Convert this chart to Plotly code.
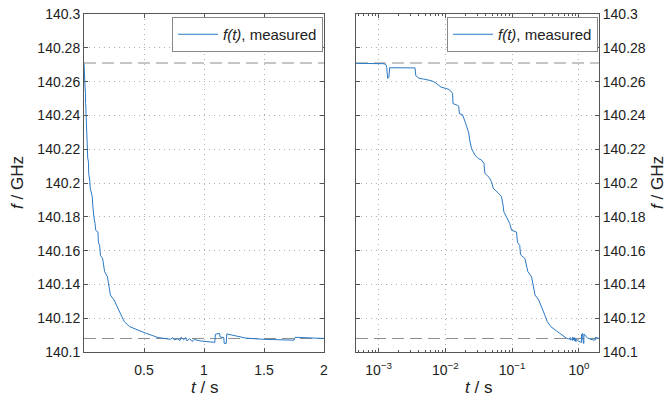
import plotly.graph_objects as go

# ---- data ----
t_s = [0.00046, 0.0008, 0.0012, 0.00128, 0.00132, 0.00136, 0.00142, 0.00146, 0.0020, 0.0030,
       0.0035, 0.0036, 0.0040, 0.0047, 0.0054, 0.0062, 0.0072, 0.0086, 0.0101, 0.0115,
       0.0128, 0.0130, 0.0150, 0.0158, 0.0162, 0.0180, 0.0198, 0.0215, 0.0222, 0.0232,
       0.0246, 0.0276, 0.0310, 0.0347, 0.0377, 0.0390, 0.0450, 0.0490, 0.0520, 0.0620,
       0.0690, 0.0730, 0.0750, 0.0820, 0.0920, 0.0980, 0.1160, 0.1200, 0.1300, 0.1330,
       0.1380, 0.1550, 0.1600, 0.1720, 0.1950, 0.2070, 0.2200, 0.2500, 0.2750, 0.2900,
       0.3150, 0.3350, 0.3800, 0.4600, 0.5200, 0.5800, 0.6100, 0.6500, 0.7000, 0.7200,
       0.7400, 0.7500, 0.7800, 0.8000, 0.8100, 0.8300, 0.8500, 0.8600, 0.8800, 0.9000,
       0.9200, 0.9500, 1.0000, 1.0900, 1.0950, 1.1300, 1.1350, 1.1650, 1.1680, 1.1850,
       1.1900, 1.3500, 1.5000, 1.6300, 1.7000, 1.7500, 1.7600, 1.9000, 2.0000]
f_GHz = [140.2708, 140.2708, 140.2706, 140.2700, 140.2685, 140.2620, 140.2625, 140.2682, 140.2683, 140.2683,
         140.2681, 140.2635, 140.2620, 140.2615, 140.2610, 140.2605, 140.2592, 140.2567, 140.2560, 140.2552,
         140.2530, 140.2470, 140.2460, 140.2455, 140.2410, 140.2405, 140.2360, 140.2320, 140.2300, 140.2250,
         140.2205, 140.2166, 140.2145, 140.2136, 140.2117, 140.2057, 140.2034, 140.2008, 140.1969, 140.1940,
         140.1920, 140.1870, 140.1830, 140.1800, 140.1760, 140.1720, 140.1710, 140.1650, 140.1630, 140.1580,
         140.1570, 140.1554, 140.1525, 140.1475, 140.1446, 140.1396, 140.1337, 140.1308, 140.1270, 140.1249,
         140.1209, 140.1180, 140.1150, 140.1125, 140.1110, 140.1095, 140.1087, 140.1082, 140.1078, 140.1075,
         140.1085, 140.1072, 140.1078, 140.1068, 140.1088, 140.1072, 140.1085, 140.1065, 140.1080, 140.1062,
         140.1075, 140.1068, 140.1063, 140.1057, 140.1105, 140.1110, 140.1088, 140.1085, 140.1051, 140.1051,
         140.1107, 140.1082, 140.1075, 140.1071, 140.1072, 140.1070, 140.1087, 140.1082, 140.1080]

f_upper = 140.271
f_lower = 140.108

y_ticks = [140.1, 140.12, 140.14, 140.16, 140.18, 140.2, 140.22, 140.24, 140.26, 140.28, 140.3]
y_ticktext = ["140.1", "140.12", "140.14", "140.16", "140.18", "140.2", "140.22", "140.24", "140.26", "140.28", "140.3"]
x_lin_ticks = [0.5, 1, 1.5, 2]
x_lin_text = ["0.5", "1", "1.5", "2"]
x_log_ticks = [0.001, 0.01, 0.1, 1]
x_log_text = ["10<sup>\u22123</sup>", "10<sup>\u22122</sup>", "10<sup>\u22121</sup>", "10<sup>0</sup>"]
x_log_minor = [m * 10.0 ** e for e in (-4, -3, -2, -1, 0) for m in range(2, 10)]

legend_label = "<i>f(t)</i>, measured"

# ---- styling ----
W, H = 669, 399
FONT = "Liberation Sans, Arial, Helvetica, sans-serif"
LINE_COLOR = "#2a78c4"
AX_COLOR = "#555555"
GRID_COLOR = "#b0b0b0"
TXT = "#222222"

fig = go.Figure()
fig.add_trace(go.Scatter(x=t_s, y=f_GHz, mode="lines", name=legend_label,
                         line=dict(color=LINE_COLOR, width=1), xaxis="x", yaxis="y",
                         legend="legend"))
fig.add_trace(go.Scatter(x=t_s, y=f_GHz, mode="lines", name=legend_label,
                         line=dict(color=LINE_COLOR, width=1), xaxis="x2", yaxis="y2",
                         legend="legend2"))

def px_x(p):
    return p / W

def px_y(p):
    return 1 - p / H

dom_y = [px_y(352), px_y(14)]
dom_x1 = [px_x(84), px_x(324)]
dom_x2 = [px_x(356), px_x(599)]

common_axis = dict(showline=True, linecolor=AX_COLOR, linewidth=1, mirror="ticks",
                   tickcolor=AX_COLOR, ticklen=4, tickwidth=1,
                   showgrid=True, gridcolor=GRID_COLOR, griddash="1px,4px", gridwidth=1,
                   zeroline=False, tickfont=dict(family=FONT, size=14, color=TXT),
                   automargin=False)

legend_common = dict(xanchor="right", yanchor="top", bgcolor="white",
                     bordercolor="#888888", borderwidth=1, itemwidth=40,
                     font=dict(family=FONT, size=15, color=TXT))

fig.update_layout(
    width=W, height=H,
    margin=dict(l=0, r=0, t=0, b=0),
    paper_bgcolor="white", plot_bgcolor="white",
    font=dict(family=FONT, size=14, color=TXT),
    xaxis=dict(domain=dom_x1, range=[0, 2], anchor="y", ticks="inside", ticklabelstandoff=5,
               tickvals=x_lin_ticks, ticktext=x_lin_text, **common_axis),
    yaxis=dict(domain=dom_y, range=[140.1, 140.3], anchor="x", ticks="inside",
               tickvals=y_ticks, ticktext=y_ticktext, side="left", **common_axis),
    xaxis2=dict(domain=dom_x2, type="log", range=[-3.34, 0.301], anchor="y2", ticks="inside",
                ticklabelstandoff=5,
                tickvals=x_log_ticks, ticktext=x_log_text,
                minor=dict(ticks="inside", ticklen=2, tickcolor=AX_COLOR, tickwidth=1,
                           tickvals=x_log_minor, showgrid=False),
                **common_axis),
    yaxis2=dict(domain=dom_y, range=[140.1, 140.3], anchor="x2", ticks="inside",
                tickvals=y_ticks, ticktext=y_ticktext, side="right", **common_axis),
    legend=dict(x=px_x(323), y=px_y(17), **legend_common),
    legend2=dict(x=px_x(598), y=px_y(17), **legend_common),
    showlegend=True,
)

for xr, yr in (("x domain", "y"), ("x2 domain", "y2")):
    for val in (f_upper, f_lower):
        fig.add_shape(type="line", xref=xr, yref=yr, x0=0, x1=1, y0=val, y1=val,
                      line=dict(color="#8c8c8c", width=1, dash="12px,6px"), layer="below")

ann_font = dict(family=FONT, size=17, color=TXT)
fig.add_annotation(text="<i>f</i> / GHz", x=px_x(17), y=px_y(183), xref="paper", yref="paper",
                   textangle=-90, showarrow=False, font=ann_font, xanchor="center", yanchor="middle")
fig.add_annotation(text="<i>f</i> / GHz", x=px_x(657), y=px_y(183), xref="paper", yref="paper",
                   textangle=-90, showarrow=False, font=ann_font, xanchor="center", yanchor="middle")
fig.add_annotation(text="<i>t</i> / s", x=px_x(204), y=px_y(387), xref="paper", yref="paper",
                   showarrow=False, font=ann_font, xanchor="center", yanchor="middle")
fig.add_annotation(text="<i>t</i> / s", x=px_x(478), y=px_y(387), xref="paper", yref="paper",
                   showarrow=False, font=ann_font, xanchor="center", yanchor="middle")

fig.write_html("out.html", config={"displayModeBar": False},
               post_script="document.body.style.margin='0';document.body.style.overflow='hidden';")
